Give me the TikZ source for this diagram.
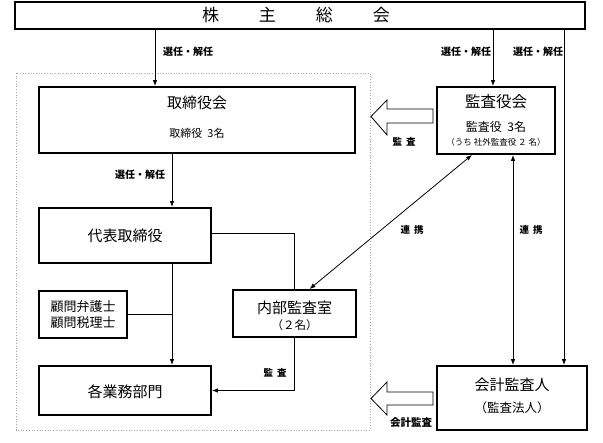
\documentclass[tikz,border=0pt]{standalone}
\usepackage{fontspec}
\newfontfamily\jp{Noto Sans CJK JP}
\usetikzlibrary{arrows.meta,calc}
\newcommand\jfs[1]{\fontsize{#1}{#1}\selectfont}
\begin{document}
\begin{tikzpicture}[x=1pt,y=-1pt,
  box/.style={draw,line width=1.8pt,inner sep=0pt,fill=white},
  lbl/.style={font=\jp\bfseries\jfs{10},inner sep=0pt},
  txt/.style={inner sep=0pt},
  conn/.style={line width=0.8pt},
  arr/.style={conn,-{Latex[length=6pt,width=4.5pt]}},
  darr/.style={conn,{Latex[length=6pt,width=4.5pt]}-{Latex[length=6pt,width=4.5pt]}},
  hollow/.style={draw,line width=0.8pt,fill=white}]
\useasboundingbox (0,0) rectangle (603,443);
\fill[white] (0,0) rectangle (603,443);

% frame
\draw[gray!70,dotted,line width=0.7pt] (16,73) rectangle (370,430);

% boxes
\node[box,line width=2.4pt,minimum width=570pt,minimum height=27pt] (top) at (300,15.5) {};
\node[box,minimum width=316pt,minimum height=66pt] (tori) at (197,120) {};
\node[box,minimum width=118pt,minimum height=67pt] (kansa) at (496,120.5) {};
\node[box,minimum width=172pt,minimum height=55pt] (daihyo) at (125,235.5) {};
\node[box,minimum width=88pt,minimum height=47pt] (komon) at (83,314.5) {};
\node[box,minimum width=123pt,minimum height=47pt] (naibu) at (294.5,313.5) {};
\node[box,minimum width=172pt,minimum height=49pt] (gyomu) at (125,390.5) {};
\node[box,minimum width=150pt,minimum height=64pt] (kaikei) at (512,398) {};

% texts
\node[txt,font=\jp\jfs{17}] (ttop) at (296,15) {株\hspace{40pt}主\hspace{40pt}総\hspace{40pt}会};
\node[txt,font=\jp\jfs{15}] (ttori) at (197,103) {取締役会};
\node[txt,font=\jp\jfs{11}] (ttori2) at (197,133) {取締役\ \ 3名};
\node[txt,font=\jp\jfs{15.5}] (tkansa) at (496,102) {監査役会};
\node[txt,font=\jp\jfs{12}] (tkansa2) at (496,127) {監査役\ \ 3名};
\node[txt,font=\jp\jfs{8.5}] (tkansa3) at (496,142) {（うち 社外監査役\ ２ 名）};
\node[txt,font=\jp\jfs{15}] (tdaihyo) at (125,236) {代表取締役};
\node[txt,font=\jp\jfs{13},align=center] (tkomon) at (83,315) {顧問弁護士\\[3pt]顧問税理士};
\node[txt,font=\jp\jfs{15}] (tnaibu) at (294.5,308) {内部監査室};
\node[txt,font=\jp\jfs{11.5}] (tnaibu2) at (294.5,325) {（２名）};
\node[txt,font=\jp\jfs{15}] (tgyomu) at (125,392) {各業務部門};
\node[txt,font=\jp\jfs{15}] (tkaikei) at (512,385) {会計監査人};
\node[txt,font=\jp\jfs{12.5}] (tkaikei2) at (512,408) {（監査法人）};

% x positions
\coordinate (xa) at (155,0);
\coordinate (xb) at (493,0);
\coordinate (xc) at (564,0);
\coordinate (xd) at (172,0);
\coordinate (xf) at (513,0);
\coordinate (ya) at (0,233);

% connectors
\draw[arr] (top.south -| xa) -- (tori.north -| xa);
\draw[arr] (top.south -| xb) -- (kansa.north -| xb);
\draw[arr] (top.south -| xc) -- (kaikei.north -| xc);
\draw[arr] (tori.south -| xd) -- (daihyo.north -| xd);
\draw[arr] (daihyo.south -| xd) -- (gyomu.north -| xd);
\draw[conn] (komon.east) -- (komon.east -| xd);
\draw[conn] (daihyo.east |- ya) -| (naibu.north);
\draw[arr] (naibu.south) |- (gyomu.east);
\draw[darr] ([xshift=15pt]naibu.north) -- ([xshift=-24pt]kansa.south);
\draw[darr] (kansa.south -| xf) -- (kaikei.north -| xf);

% hollow arrows
\draw[hollow] (433,109) -- (387,109) -- (387,100) -- (371,116.5) -- (387,135) -- (387,123) -- (433,123) -- cycle;
\draw[hollow] (433,392) -- (387,392) -- (387,382) -- (371,398.5) -- (387,415) -- (387,405) -- (433,405) -- cycle;

% labels
\node[lbl] (l1) at (188,52) {選任・解任};
\node[lbl] (l2) at (466,52) {選任・解任};
\node[lbl] (l3) at (538,52) {選任・解任};
\node[lbl] (l4) at (140,175) {選任・解任};
\node[lbl,font=\jp\bfseries\jfs{9.5}] (l5) at (404,142) {監\hspace{4pt}査};
\node[lbl,font=\jp\bfseries\jfs{9.5}] (l6) at (412,230) {連\hspace{4pt}携};
\node[lbl,font=\jp\bfseries\jfs{9.5}] (l7) at (531,230) {連\hspace{4pt}携};
\node[lbl,font=\jp\bfseries\jfs{9.5}] (l8) at (275,373) {監\hspace{4pt}査};
\node[lbl,font=\jp\bfseries\jfs{10.5}] (l9) at (411,423) {会計監査};
\end{tikzpicture}
\end{document}
